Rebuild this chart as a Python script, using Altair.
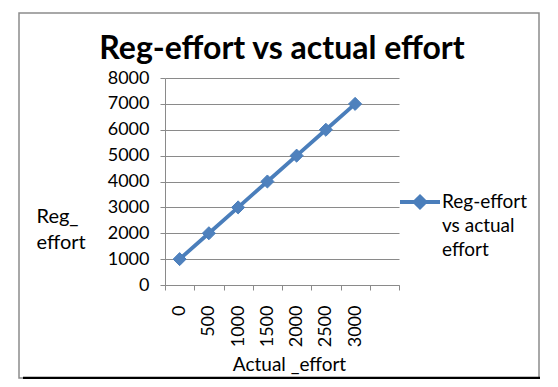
import json
import altair as alt
import pandas as pd

# ---- data ----
actual_effort = [0, 500, 1000, 1500, 2000, 2500, 3000]
reg_effort = [1000, 2000, 3000, 4000, 5000, 6000, 7000]
series_name = "Reg-effort vs actual effort"
legend_lines = ["Reg-effort", "vs actual", "effort"]
y_ticks = [0, 1000, 2000, 3000, 4000, 5000, 6000, 7000, 8000]
title_text = "Reg-effort vs actual effort"
x_title = "Actual _effort"
y_title = ["Reg_", "effort"]

df = pd.DataFrame({"actual": actual_effort, "reg": reg_effort, "series": [series_name] * len(actual_effort)})

FONT = "Lato"
GRID = "#8a8a8a"
BLUE = "#4A7EBB"

step = 500
half = step / 2
x_scale = alt.Scale(domain=[0, step * (len(actual_effort) + 1)], nice=False, zero=False)
y_scale = alt.Scale(domain=[0, 8000], nice=False)

base = alt.Chart(df).transform_calculate(pos=f"datum.actual + {half}")

line = base.mark_line(strokeWidth=3.8, point=alt.OverlayMarkDef(shape="diamond", size=170, filled=True,
                                                                   fill="#4F81BD", stroke="#4A7EBB", strokeWidth=1)).encode(
    x=alt.X("pos:Q", scale=x_scale,
            axis=alt.Axis(orient="bottom", values=[a + half for a in actual_effort],
                          labelExpr=f"format(datum.value - {half}, 'd')",
                          labelAngle=270, labelFont=FONT, labelFontSize=18, labelColor="black",
                          labelPadding=20, ticks=False, tickSize=0, domain=False, grid=False,
                          title=x_title, titleFont=FONT, titleFontSize=19, titleFontWeight="normal",
                          titleColor="black", titleAnchor="start", titleAlign="center",
                          titleBaseline="alphabetic", titleX=124, titleY=85, labelOverlap=False)),
    y=alt.Y("reg:Q", scale=y_scale,
            axis=alt.Axis(values=y_ticks, format="d", grid=True, gridColor=GRID, gridWidth=1,
                          domainColor=GRID, tickColor=GRID, tickSize=5, labelFont=FONT, labelFontSize=18,
                          labelColor="black", labelPadding=11,
                          title=y_title, titleAngle=0, titleAlign="left", titleBaseline="alphabetic",
                          titleX=-129, titleY=144, titleFont=FONT, titleFontSize=20,
                          titleFontWeight="normal", titleColor="black", titleLineHeight=26)),
    color=alt.Color("series:N", scale=alt.Scale(range=[BLUE]),
                    legend=alt.Legend(title=None, orient="none", legendX=233, legendY=102, padding=0,
                                      symbolType="M-1,0H1M0,-0.27L0.27,0L0,0.27L-0.27,0Z",
                                      symbolSize=1600, symbolStrokeWidth=3.8, symbolFillColor=BLUE,
                                      symbolStrokeColor=BLUE, labelFont=FONT, labelFontSize=19,
                                      labelColor="black", labelOffset=0, labelLimit=200,
                                      labelExpr=json.dumps(legend_lines).replace('"', "'"))),
)

# axis with tick marks at category boundaries (invisible layer)
tick_layer = base.mark_point(opacity=0).encode(
    x=alt.X("pos:Q", scale=x_scale,
            axis=alt.Axis(orient="bottom", values=[i * step for i in range(len(actual_effort) + 2)],
                          labels=False, ticks=True, tickSize=5, tickColor=GRID, domain=True,
                          domainColor=GRID, grid=False, title=None)),
)

frame_df = pd.DataFrame({"k": [0]})
frame = alt.Chart(frame_df).mark_rect(fill=None, stroke="#8c8c8c", strokeWidth=1.5, clip=False).encode(
    x=alt.value(-146), x2=alt.value(374), y=alt.value(-65), y2=alt.value(300))
bottom = alt.Chart(frame_df).mark_rule(stroke="black", strokeWidth=2.5, clip=False).encode(
    x=alt.value(-142), x2=alt.value(375), y=alt.value(300))

chart = alt.layer(frame, bottom, line, tick_layer).resolve_axis(x="independent").properties(
    width=234, height=207,
    title=alt.TitleParams(title_text, font=FONT, fontSize=32, fontWeight="bold", color="black",
                          anchor="middle", offset=-54),
    autosize=alt.AutoSizeParams(type="none"),
    padding={"left": 157, "top": 70, "right": 151, "bottom": 94},
).configure(style={"guide-label": {"lineHeight": 24}}).configure_view(stroke=None)

chart.save("out.html", embed_options={"renderer": "svg", "actions": False})
